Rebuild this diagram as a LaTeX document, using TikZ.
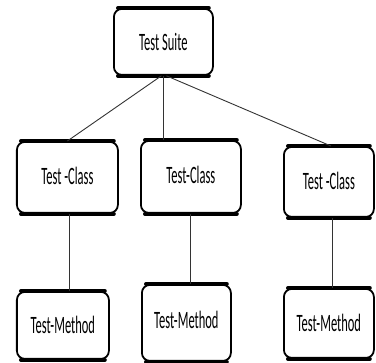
\documentclass[tikz,border=0pt]{standalone}
\usepackage{fontspec}
\newfontfamily\boxfont[FakeStretch=0.5]{Carlito}
\begin{document}
\begin{tikzpicture}[x=1pt,y=-1pt,
  tbox/.style={draw=black, line width=1.8pt, rounded corners=8pt, fill=white,
    font=\boxfont\fontsize{25}{27}\selectfont, inner sep=0pt, anchor=north west},
  edge/.style={line width=4pt, line cap=round},
  conn/.style={draw=black!80, line width=0.9pt}]
\useasboundingbox (0,0) rectangle (376,363);
% boxes
\node[tbox, minimum width=99pt, minimum height=66pt] (suite) at (113,8) {Test Suite};
\node[tbox, minimum width=101pt, minimum height=71pt] (c1) at (16,141) {\raisebox{3pt}{Test -Class}};
\node[tbox, minimum width=100pt, minimum height=72pt] (c2) at (140,140) {\raisebox{4pt}{Test-Class}};
\node[tbox, minimum width=90pt, minimum height=70pt] (c3) at (283,146) {\raisebox{3pt}{Test -Class}};
\node[tbox, minimum width=92pt, minimum height=67pt] (m1) at (16,291) {\raisebox{1pt}{Test-Method}};
\node[tbox, minimum width=89pt, minimum height=76pt] (m2) at (141,284) {\raisebox{7pt}{Test-Method}};
\node[tbox, minimum width=90pt, minimum height=69pt] (m3) at (283,288) {\raisebox{1pt}{Test-Method}};
% thicker top and bottom edges
\foreach \n in {suite,c1,c2,c3,m1,m2,m3}{
  \draw[edge] ([xshift=5pt]\n.north west) -- ([xshift=-5pt]\n.north east);
  \draw[edge] ([xshift=5pt]\n.south west) -- ([xshift=-5pt]\n.south east);
}
% connectors
\draw[conn] ([xshift=-2pt]suite.south) -- (c1.north);
\draw[conn] (suite.south) -- (suite.south |- c2.north);
\draw[conn] ([xshift=3pt]suite.south) -- ([xshift=2pt]c3.north);
\draw[conn] ([xshift=2pt]c1.south) -- ([xshift=2pt]c1.south |- m1.north);
\draw[conn] (c2.south) -- (c2.south |- m2.north);
\draw[conn] ([xshift=4pt]c3.south) -- ([xshift=4pt]c3.south |- m3.north);
\end{tikzpicture}
\end{document}
